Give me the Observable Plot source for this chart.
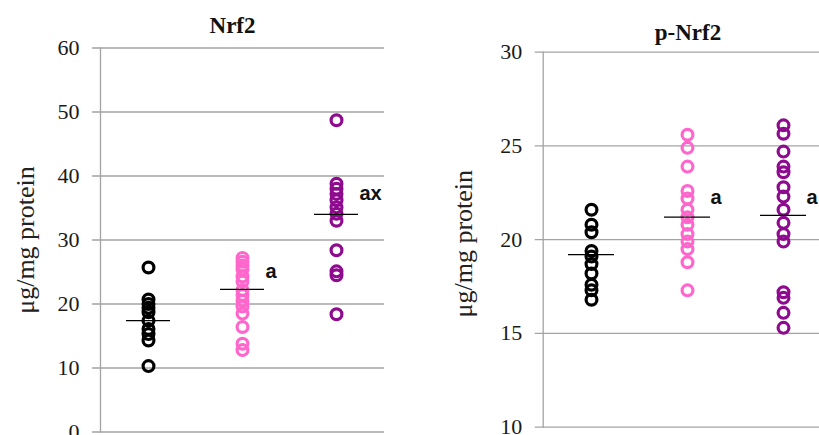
<!DOCTYPE html>
<html>
<head>
<meta charset="utf-8">
<script src="https://cdn.jsdelivr.net/npm/d3@7"></script>
<script src="https://cdn.jsdelivr.net/npm/@observablehq/plot@0.6"></script>
<style>
  html, body { margin: 0; padding: 0; background: white; }
  #chart { position: relative; width: 819px; height: 435px; overflow: hidden; background: white; }
  #chart > .p { position: absolute; top: 0; }
</style>
</head>
<body>
<div id="chart"></div>
<script>
// ---- data ----
const groups = ["group 1", "group 2", "group 3"];
const groupColors = ["#000000", "#ff66cc", "#8e0a8e"];
const yLabel = "μg/mg protein";

// Panel 1: Nrf2
const nrf2Title = "Nrf2";
const nrf2Ticks = [0, 10, 20, 30, 40, 50, 60];
const nrf2Group1 = [25.7, 20.7, 20.0, 19.4, 18.7, 17.4, 16.1, 15.3, 14.3, 10.3];
const nrf2Group2 = [27.2, 26.6, 26.0, 25.4, 24.3, 23.5, 22.2, 21.4, 20.5, 19.6, 18.5, 16.4, 13.8, 12.8];
const nrf2Group3 = [48.7, 38.8, 38.0, 37.2, 36.2, 35.1, 34.1, 33.0, 28.4, 25.1, 24.5, 18.4];
const nrf2Means = [17.4, 22.3, 34.0];
const nrf2Letters = ["", "a", "ax"];
const nrf2LetterY = [null, 25.1, 37.3];

// Panel 2: p-Nrf2
const pnrf2Title = "p-Nrf2";
const pnrf2Ticks = [10, 15, 20, 25, 30];
const pnrf2Group1 = [21.6, 20.8, 20.4, 19.4, 19.1, 18.7, 18.2, 17.6, 17.3, 16.8];
const pnrf2Group2 = [25.6, 24.9, 23.9, 22.6, 22.2, 21.6, 21.2, 20.8, 20.3, 19.9, 19.5, 18.8, 17.3];
const pnrf2Group3 = [26.1, 25.65, 24.7, 23.9, 23.6, 22.8, 22.3, 21.6, 20.9, 20.3, 19.9, 17.2, 16.9, 16.1, 15.3];
const pnrf2Means = [19.2, 21.2, 21.3];
const pnrf2Letters = ["", "a", "a"];
const pnrf2LetterY = [null, 22.25, 22.27];

// ---- drawing ----
const gridColor = "#a3a3a3";
const serif = "'Liberation Serif', 'DejaVu Serif', serif";
const sans = "'Liberation Sans', Arial, sans-serif";

function panel(o) {
  const points = o.series.flatMap((vals, i) => vals.map(v => ({group: groups[i], value: v})));
  const means = o.means.map((m, i) => ({group: groups[i], value: m}));
  const letters = o.letters.map((t, i) => ({group: groups[i], text: t, value: o.letterY[i]})).filter(d => d.text);
  const ticks = o.ticks;
  return Plot.plot({
    width: o.width,
    height: 435,
    marginLeft: o.marginLeft,
    marginRight: o.marginRight,
    marginTop: o.marginTop,
    marginBottom: o.marginBottom,
    style: {background: "white", fontFamily: serif},
    x: {domain: groups, padding: 0, axis: null},
    y: {domain: [ticks[0], ticks[ticks.length - 1]]},
    color: {domain: groups, range: groupColors},
    marks: [
      Plot.ruleY(ticks, {stroke: gridColor, strokeWidth: 1.3, insetLeft: -8}),
      Plot.frame({anchor: "left", stroke: gridColor, strokeWidth: 1.3}),
      Plot.axisY({ticks, tickSize: 0, tickPadding: 21, fontSize: 22, fontFamily: serif, fill: "#1a1a1a", label: null}),
      Plot.dot(points, {x: "group", y: "value", stroke: "group", fill: "none", r: 5.4, strokeWidth: 3.2}),
      Plot.tickY(means, {x: "group", y: "value", stroke: "black", strokeWidth: 1.3, insetLeft: 25, insetRight: 25}),
      Plot.text(letters, {x: "group", y: "value", text: "text", dx: 23, textAnchor: "start", lineAnchor: "middle",
        fontFamily: sans, fontWeight: "bold", fontSize: 20, fill: "#111"}),
      Plot.text([o.title], {frameAnchor: "top", text: d => d, dx: o.titleDx, dy: o.titleDy, lineAnchor: "middle",
        fontFamily: serif, fontWeight: "bold", fontSize: 23, fill: "#111"}),
      Plot.text([yLabel], {frameAnchor: "left", text: d => d, rotate: -90, dx: o.ylabelDx, dy: o.ylabelDy,
        textAnchor: "middle", lineAnchor: "middle", fontFamily: serif, fontSize: 26, fill: "#222"})
    ]
  });
}

const left = panel({
  title: nrf2Title, series: [nrf2Group1, nrf2Group2, nrf2Group3], means: nrf2Means,
  letters: nrf2Letters, letterY: nrf2LetterY, ticks: nrf2Ticks,
  width: 410, marginLeft: 100, marginRight: 26, marginTop: 47.5, marginBottom: 3.5,
  titleDx: -10, titleDy: -22.5, ylabelDx: -75, ylabelDy: 0
});
const right = panel({
  title: pnrf2Title, series: [pnrf2Group1, pnrf2Group2, pnrf2Group3], means: pnrf2Means,
  letters: pnrf2Letters, letterY: pnrf2LetterY, ticks: pnrf2Ticks,
  width: 430, marginLeft: 132.7, marginRight: 7.8, marginTop: 51.7, marginBottom: 8.3,
  titleDx: 0, titleDy: -20, ylabelDx: -80, ylabelDy: 4
});
left.classList.add("p"); left.style.left = "0px";
right.classList.add("p"); right.style.left = "410px";
const chart = document.getElementById("chart");
chart.appendChild(left);
chart.appendChild(right);
</script>
</body>
</html>
